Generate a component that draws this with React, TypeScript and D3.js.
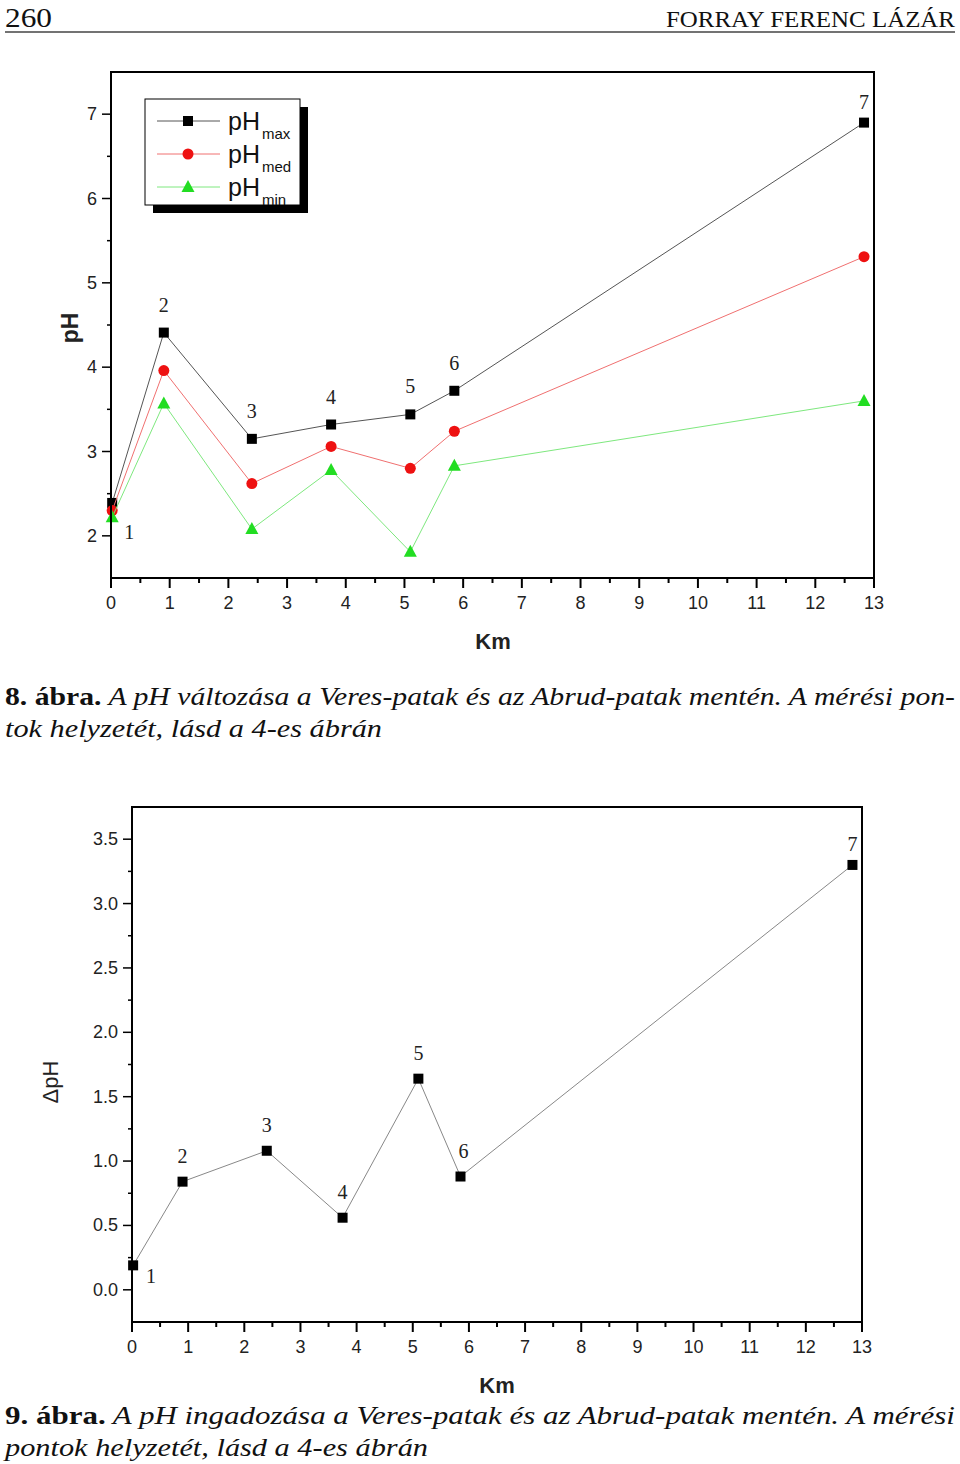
import React from 'react';
import * as d3 from 'd3';

const km = [0.02, 0.9, 2.4, 3.75, 5.1, 5.85, 12.83];
const pointLabels = ['1', '2', '3', '4', '5', '6', '7'];
const phMax = [2.39, 4.41, 3.15, 3.32, 3.44, 3.72, 6.9];
const phMed = [2.3, 3.96, 2.62, 3.06, 2.8, 3.24, 5.31];
const phMin = [2.22, 3.57, 2.08, 2.78, 1.81, 2.83, 3.6];
const deltaPh = [0.19, 0.84, 1.08, 0.56, 1.64, 0.88, 3.3];
const xTicks = d3.range(0, 14);
const xMinor = d3.range(0.5, 13, 1);
const yTicks1 = [2, 3, 4, 5, 6, 7];
const yMinor1 = [2.5, 3.5, 4.5, 5.5, 6.5];
const yTicks2 = [0, 0.5, 1, 1.5, 2, 2.5, 3, 3.5];
const yMinor2 = [0.25, 0.75, 1.25, 1.75, 2.25, 2.75, 3.25];
const legendNames = ['max', 'med', 'min'];

const SANS = '"Liberation Sans", Arial, sans-serif';
const SERIF = '"Liberation Serif", "Times New Roman", serif';

type Scale = d3.ScaleLinear<number, number>;

function Frame({ x, y, yt, ym, fmt }: { x: Scale; y: Scale; yt: number[]; ym: number[]; fmt: (v: number) => string }) {
  const [x0, x1] = x.range();
  const [yb, ytop] = y.range();
  return (
    <g>
      <rect x={x0} y={ytop} width={x1 - x0} height={yb - ytop} fill="none" stroke="#000" strokeWidth={2} />
      {xTicks.map((t) => (
        <g key={'x' + t}>
          <line x1={x(t)} x2={x(t)} y1={yb} y2={yb + 10} stroke="#000" strokeWidth={2} />
          <text x={x(t)} y={yb + 31} textAnchor="middle" fontFamily={SANS} fontSize={18} fill="#222">{t}</text>
        </g>
      ))}
      {xMinor.map((t) => (
        <line key={'xm' + t} x1={x(t)} x2={x(t)} y1={yb} y2={yb + 5} stroke="#000" strokeWidth={2} />
      ))}
      {yt.map((t) => (
        <g key={'y' + t}>
          <line x1={x0 - 9} x2={x0} y1={y(t)} y2={y(t)} stroke="#000" strokeWidth={1.5} />
          <text x={x0 - 14} y={y(t) + 6} textAnchor="end" fontFamily={SANS} fontSize={18} fill="#222">{fmt(t)}</text>
        </g>
      ))}
      {ym.map((t) => (
        <line key={'ym' + t} x1={x0 - 4} x2={x0} y1={y(t)} y2={y(t)} stroke="#000" strokeWidth={1.5} />
      ))}
    </g>
  );
}

function Marker({ kind, cx, cy }: { kind: string; cx: number; cy: number }) {
  if (kind === 'square') return <rect x={cx - 5} y={cy - 5} width={10} height={10} fill="#000" />;
  if (kind === 'circle') return <circle cx={cx} cy={cy} r={5.5} fill="#ee1111" />;
  return <path d={`M${cx},${cy - 7}L${cx + 6.5},${cy + 5}L${cx - 6.5},${cy + 5}Z`} fill="#22dd22" />;
}

const series1 = [
  { vals: phMax, color: '#555', kind: 'square' },
  { vals: phMed, color: '#f07070', kind: 'circle' },
  { vals: phMin, color: '#7ee87e', kind: 'triangle' },
];

export default function App() {
  const x1 = d3.scaleLinear().domain([0, 13]).range([111, 874]);
  const y1 = d3.scaleLinear().domain([1.5, 7.5]).range([578, 72]);
  const x2 = d3.scaleLinear().domain([0, 13]).range([132, 862]);
  const y2 = d3.scaleLinear().domain([-0.25, 3.75]).range([1322, 807]);

  const lineGen = (xs: Scale, ys: Scale, vals: number[]) =>
    d3.line<number>().x((_, i) => xs(km[i])).y((v) => ys(v))(vals) || '';

  return (
    <svg width={960} height={1464} style={{ position: 'absolute', left: 0, top: 0, background: '#fff' }}>
      <rect width={960} height={1464} fill="#fff" />
      {/* header */}
      <text x={5} y={27} fontFamily={SERIF} fontSize={28} fill="#111" textLength={47} lengthAdjust="spacingAndGlyphs">260</text>
      <text x={955} y={27} textAnchor="end" fontFamily={SERIF} fontSize={24} fill="#111" textLength={289} lengthAdjust="spacingAndGlyphs">FORRAY FERENC LÁZÁR</text>
      <line x1={5} x2={955} y1={32} y2={32} stroke="#444" strokeWidth={1.5} />

      {/* chart 1 */}
      <g>
        {series1.map((s, si) => (
          <g key={si}>
            <path d={lineGen(x1, y1, s.vals)} fill="none" stroke={s.color} strokeWidth={1} />
            {s.vals.map((v, i) => (
              <Marker key={i} kind={s.kind} cx={x1(km[i])} cy={y1(v)} />
            ))}
          </g>
        ))}
        <Frame x={x1} y={y1} yt={yTicks1} ym={yMinor1} fmt={(v) => String(v)} />
        {pointLabels.map((l, i) => {
          const first = i === 0;
          const px = first ? x1(km[i]) + 17 : x1(km[i]);
          const py = first ? y1(phMax[i]) + 36 : y1(phMax[i]) - (i === 6 ? 14 : 21);
          return (
            <text key={l} x={px} y={py} textAnchor="middle" fontFamily={SERIF} fontSize={20} fill="#222">{l}</text>
          );
        })}
        {/* legend */}
        <rect x={153} y={107} width={155} height={106} fill="#000" />
        <rect x={145} y={99} width={155} height={106} fill="#fff" stroke="#000" strokeWidth={1} />
        {series1.map((s, i) => {
          const ry = 121 + i * 33;
          return (
            <g key={'lg' + i}>
              <line x1={157} x2={220} y1={ry} y2={ry} stroke={s.color} strokeWidth={1} />
              <Marker kind={s.kind} cx={188} cy={ry} />
              <text x={228} y={ry + 9} fontFamily={SANS} fontSize={25} fill="#111">pH</text>
              <text x={262} y={ry + 18} fontFamily={SANS} fontSize={15} fill="#111">{legendNames[i]}</text>
            </g>
          );
        })}
        <text transform="translate(78,328) rotate(-90)" textAnchor="middle" fontFamily={SANS} fontWeight="bold" fontSize={23} fill="#222">pH</text>
        <text x={493} y={649} textAnchor="middle" fontFamily={SANS} fontWeight="bold" fontSize={22} fill="#222">Km</text>
      </g>

      {/* caption 1 */}
      <text x={5} y={705} fontFamily={SERIF} fontSize={26} fill="#111" textLength={950} lengthAdjust="spacingAndGlyphs">
        <tspan fontWeight="bold">8. ábra.</tspan>
        <tspan fontStyle="italic"> A pH változása a Veres-patak és az Abrud-patak mentén. A mérési pon-</tspan>
      </text>
      <text x={5} y={737} fontFamily={SERIF} fontSize={26} fontStyle="italic" fill="#111" textLength={377} lengthAdjust="spacingAndGlyphs">tok helyzetét, lásd a 4-es ábrán</text>

      {/* chart 2 */}
      <g>
        <path d={lineGen(x2, y2, deltaPh)} fill="none" stroke="#888" strokeWidth={1} />
        {deltaPh.map((v, i) => (
          <Marker key={i} kind="square" cx={x2(km[i])} cy={y2(v)} />
        ))}
        <Frame x={x2} y={y2} yt={yTicks2} ym={yMinor2} fmt={(v) => v.toFixed(1)} />
        {pointLabels.map((l, i) => {
          const first = i === 0;
          const px = first ? x2(km[i]) + 18 : x2(km[i]) + (i === 5 ? 3 : 0);
          const py = first ? y2(deltaPh[i]) + 18 : y2(deltaPh[i]) - (i === 6 ? 14 : 19);
          return (
            <text key={l} x={px} y={py} textAnchor="middle" fontFamily={SERIF} fontSize={20} fill="#222">{l}</text>
          );
        })}
        <text transform="translate(58,1082) rotate(-90)" textAnchor="middle" fontFamily={SANS} fontSize={22} fill="#222">ΔpH</text>
        <text x={497} y={1393} textAnchor="middle" fontFamily={SANS} fontWeight="bold" fontSize={22} fill="#222">Km</text>
      </g>

      {/* caption 2 */}
      <text x={5} y={1424} fontFamily={SERIF} fontSize={26} fill="#111" textLength={950} lengthAdjust="spacingAndGlyphs">
        <tspan fontWeight="bold">9. ábra.</tspan>
        <tspan fontStyle="italic"> A pH ingadozása a Veres-patak és az Abrud-patak mentén. A mérési</tspan>
      </text>
      <text x={5} y={1456} fontFamily={SERIF} fontSize={26} fontStyle="italic" fill="#111" textLength={423} lengthAdjust="spacingAndGlyphs">pontok helyzetét, lásd a 4-es ábrán</text>
    </svg>
  );
}
